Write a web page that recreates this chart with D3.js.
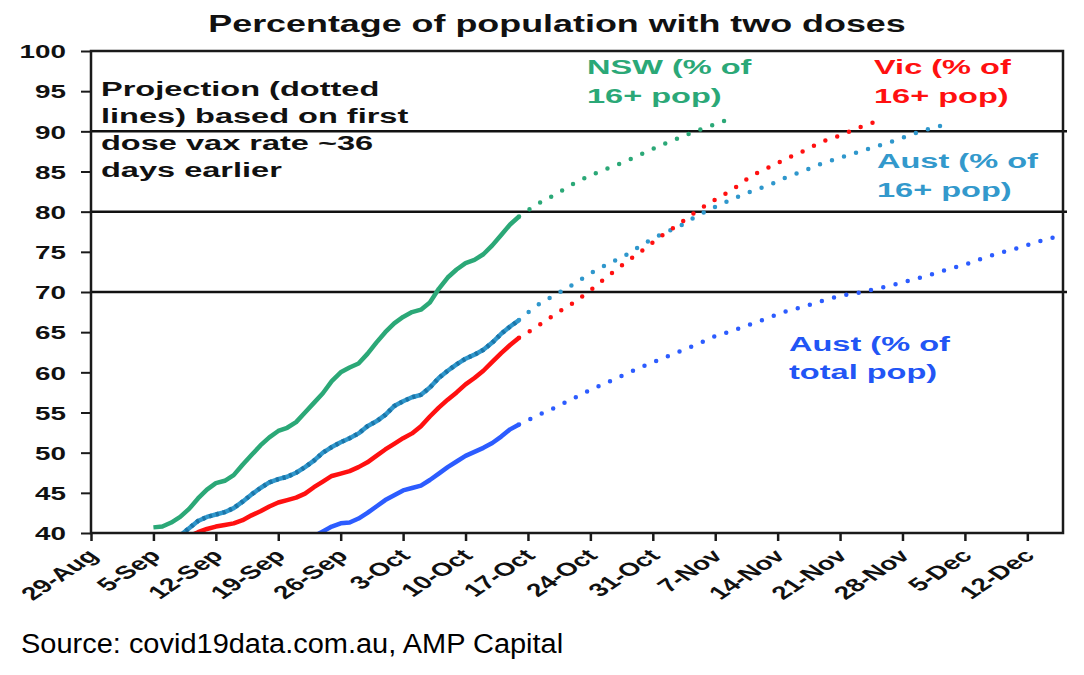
<!DOCTYPE html>
<html>
<head>
<meta charset="utf-8">
<script src="https://cdn.jsdelivr.net/npm/d3@7"></script>
<style>
  body { margin: 0; background: #fff; }
  svg { display: block; }
  text { font-family: "Liberation Sans", Arial, sans-serif; }
</style>
</head>
<body>
<div class="container"></div>
<script>

// ---- data ----
const xTickLabels = ["29-Aug", "5-Sep", "12-Sep", "19-Sep", "26-Sep", "3-Oct", "10-Oct", "17-Oct",
    "24-Oct", "31-Oct", "7-Nov", "14-Nov", "21-Nov", "28-Nov", "5-Dec", "12-Dec"]
const yTicks = [40, 45, 50, 55, 60, 65, 70, 75, 80, 85, 90, 95, 100]
const targetLines = [70, 80, 90]

// actual daily values (% with two doses), one per day from the start date
const nswStart = "2021-09-05"
const nswActual = [40.7, 40.8, 41.3, 42.0, 43.0, 44.3, 45.4, 46.2, 46.5, 47.2, 48.5, 49.7, 50.9, 51.9,
    52.7, 53.1, 53.8, 55.0, 56.2, 57.4, 58.9, 60.0, 60.6, 61.1, 62.3, 63.7, 65.0, 66.1, 66.9, 67.5,
    67.8, 68.7, 70.4, 71.8, 72.8, 73.6, 74.0, 74.7, 75.8, 77.1, 78.4, 79.4]

const aus16Start = "2021-09-08"
const aus16Actual = [39.7, 40.6, 41.5, 42.0, 42.3, 42.6, 43.1, 43.9, 44.8, 45.6, 46.3, 46.7, 47.0,
    47.5, 48.2, 49.0, 50.0, 50.7, 51.3, 51.8, 52.4, 53.3, 53.9, 54.7, 55.8, 56.4, 56.9, 57.2, 58.1,
    59.3, 60.2, 61.0, 61.7, 62.2, 62.8, 63.7, 64.8, 65.7, 66.5]

const vicStart = "2021-09-09"
const vicActual = [39.6, 40.1, 40.5, 40.8, 41.0, 41.2, 41.6, 42.2, 42.7, 43.3, 43.8, 44.1, 44.4, 44.9,
    45.7, 46.4, 47.1, 47.4, 47.7, 48.2, 48.8, 49.6, 50.4, 51.1, 51.8, 52.4, 53.3, 54.5, 55.6, 56.6,
    57.5, 58.5, 59.3, 60.2, 61.3, 62.4, 63.4, 64.3]

const ausTotalStart = "2021-09-23"
const ausTotalActual = [39.6, 40.2, 40.8, 41.2, 41.3, 41.8, 42.5, 43.3, 44.1, 44.7, 45.3, 45.6, 45.9,
    46.6, 47.4, 48.2, 48.9, 49.6, 50.1, 50.6, 51.2, 52.0, 52.9, 53.5]

// projections (dotted), one value every 2 days from 16-Oct
const projStart = "2021-10-16"
const projStep = 2
const nswProj = [79.4, 80.9, 82.1, 83.4, 84.5, 85.4, 86.3, 87.3, 88.3, 89.2, 90.1, 90.9, 91.7]
const aus16Proj = [66.5, 68.3, 69.6, 70.9, 72.3, 73.5, 74.6, 76.0, 77.2, 78.2, 79.5, 80.6, 81.6, 82.5,
    83.3, 84.3, 85.1, 86.0, 86.7, 87.4, 88.1, 88.8, 89.6, 90.3, 90.9]
const vicProj = [64.3, 65.7, 67.2, 68.6, 70.2, 72.0, 73.7, 75.3, 77.0, 78.5, 80.1, 81.5, 82.8, 84.4,
    85.5, 86.6, 87.6, 88.7, 89.5, 90.4, 91.2]
const ausTotalProj = [53.5, 54.6, 55.6, 56.7, 57.8, 58.8, 59.8, 60.8, 61.7, 62.6, 63.5, 64.5, 65.2, 66.0,
    66.8, 67.6, 68.2, 68.9, 69.5, 69.9, 70.4, 70.9, 71.5, 72.1, 72.8, 73.4, 74.2, 74.9, 75.5, 76.2,
    76.8, 77.3]

// ---- helpers ----
const parseDay = d3.timeParse("%Y-%m-%d")
const parseTick = d3.timeParse("%d-%b-%Y")
const tickDates = xTickLabels.map(t => parseTick(t + "-2021"))

function toPoints(start, values, step) {
    const d0 = parseDay(start)
    return values.map((v, i) => ({date: d3.timeDay.offset(d0, i * step), value: v}))
}

const series = [
    {name: "nsw", color: "#2ba877", actual: toPoints(nswStart, nswActual, 1), proj: toPoints(projStart, nswProj, projStep)},
    {name: "aus16", color: "#2f97cc", actual: toPoints(aus16Start, aus16Actual, 1), proj: toPoints(projStart, aus16Proj, projStep)},
    {name: "vic", color: "#ff1010", actual: toPoints(vicStart, vicActual, 1), proj: toPoints(projStart, vicProj, projStep)},
    {name: "ausTotal", color: "#2c5cff", actual: toPoints(ausTotalStart, ausTotalActual, 1), proj: toPoints(projStart, ausTotalProj, projStep)}
]

// ---- svg ----
const outerWidth = 1084
const outerHeight = 675
const plot = {left: 91, right: 1063, top: 51, bottom: 533}
const SX = 1.55   // the chart text is drawn wide

const svg = d3.select(".container")
    .append("svg")
    .attr("width", outerWidth)
    .attr("height", outerHeight)

const x = d3.scaleTime()
    .domain([parseDay("2021-08-29"), parseDay("2021-12-16")])
    .range([plot.left, plot.right])

const y = d3.scaleLinear()
    .domain([40, 100])
    .range([plot.bottom, plot.top])

svg.append("clipPath")
    .attr("id", "plotclip")
    .append("rect")
    .attr("x", plot.left)
    .attr("y", plot.top)
    .attr("width", plot.right - plot.left)
    .attr("height", plot.bottom - plot.top)

// target lines at 70 / 80 / 90
svg.selectAll("line.target")
    .data(targetLines)
    .join("line")
    .attr("class", "target")
    .attr("x1", plot.left)
    .attr("x2", plot.right + 4)
    .attr("y1", d => y(d))
    .attr("y2", d => y(d))
    .attr("stroke", "#111")
    .attr("stroke-width", 2.5)

const line = d3.line()
    .x(d => x(d.date))
    .y(d => y(d.value))

const projLine = d3.line()
    .x(d => x(d.date))
    .y(d => y(d.value))
    .curve(d3.curveMonotoneX)

const lines = svg.append("g").attr("clip-path", "url(#plotclip)")

// dotted projections
lines.selectAll("path.proj")
    .data(series)
    .join("path")
    .attr("class", "proj")
    .attr("d", d => projLine(d.proj))
    .attr("fill", "none")
    .attr("stroke", d => d.color)
    .attr("stroke-width", 4.5)
    .attr("stroke-linecap", "round")
    .attr("stroke-dasharray", "0 12.6")

// solid actuals
lines.selectAll("path.actual")
    .data(series)
    .join("path")
    .attr("class", "actual")
    .attr("d", d => line(d.actual))
    .attr("fill", "none")
    .attr("stroke", d => d.color)
    .attr("stroke-width", 4.5)
    .attr("stroke-linejoin", "round")

// the Aust 16+ line has a two-tone look
lines.append("path")
    .attr("d", line(series[1].actual))
    .attr("fill", "none")
    .attr("stroke", "#1b75a8")
    .attr("stroke-width", 4.5)
    .attr("stroke-dasharray", "3 4")

// frame
svg.append("rect")
    .attr("x", plot.left)
    .attr("y", plot.top)
    .attr("width", plot.right - plot.left)
    .attr("height", plot.bottom - plot.top)
    .attr("fill", "none")
    .attr("stroke", "#1a1a1a")
    .attr("stroke-width", 2.5)

// y axis
const yAxis = svg.append("g")
    .attr("transform", `translate(${plot.left},0)`)
    .call(d3.axisLeft(y).tickValues(yTicks).tickSize(10).tickSizeOuter(0))

yAxis.select(".domain").remove()
yAxis.selectAll(".tick line").attr("stroke", "#1a1a1a").attr("stroke-width", 2)
yAxis.selectAll(".tick text")
    .attr("x", 0)
    .attr("dy", "0.36em")
    .attr("transform", `translate(-25,0) scale(${SX * 0.97},1)`)
    .attr("fill", "#111")
    .style("font-size", "18.5px")
    .style("font-weight", "bold")

// x axis
const xAxis = svg.append("g")
    .attr("transform", `translate(0,${plot.bottom})`)
    .call(d3.axisBottom(x).tickValues(tickDates).tickFormat(d3.timeFormat("%-d-%b")).tickSize(8).tickSizeOuter(0))

xAxis.select(".domain").remove()
xAxis.selectAll(".tick line").attr("stroke", "#1a1a1a").attr("stroke-width", 2.5)
xAxis.selectAll(".tick text")
    .attr("x", 0)
    .attr("y", 0)
    .attr("dy", 0)
    .attr("text-anchor", "end")
    .attr("transform", `translate(8,24) scale(${SX * 0.97},1) rotate(-45)`)
    .attr("fill", "#111")
    .style("font-size", "18.5px")
    .style("font-weight", "bold")

// ---- text ----
function wideText(str, tx, ty, size, weight, color, sx, anchor) {
    svg.append("text")
        .attr("transform", `translate(${tx},${ty}) scale(${sx},1)`)
        .attr("text-anchor", anchor || "start")
        .attr("fill", color)
        .style("font-size", size + "px")
        .style("font-weight", weight)
        .text(str)
}

wideText("Percentage of population with two doses", 557, 32, 23, "bold", "#111", 1.56, "middle")

const noteLines = ["Projection (dotted", "lines) based on first", "dose vax rate ~36", "days earlier"]
noteLines.forEach((t, i) => wideText(t, 101, 96 + i * 27, 21, "bold", "#111", SX))

wideText("NSW (% of", 587, 74, 21, "bold", "#2ba877", SX)
wideText("16+ pop)", 587, 103, 21, "bold", "#2ba877", SX)
wideText("Vic (% of", 874, 74, 21, "bold", "#ff1010", SX)
wideText("16+ pop)", 874, 103, 21, "bold", "#ff1010", SX)
wideText("Aust (% of", 877, 168, 21, "bold", "#3399cc", SX)
wideText("16+ pop)", 877, 197, 21, "bold", "#3399cc", SX)
wideText("Aust (% of", 789, 351, 21, "bold", "#2255f5", SX)
wideText("total pop)", 789, 379, 21, "bold", "#2255f5", SX)

wideText("Source: covid19data.com.au, AMP Capital", 21, 653, 28, "normal", "#000", 1.035)

</script>
</body>
</html>
